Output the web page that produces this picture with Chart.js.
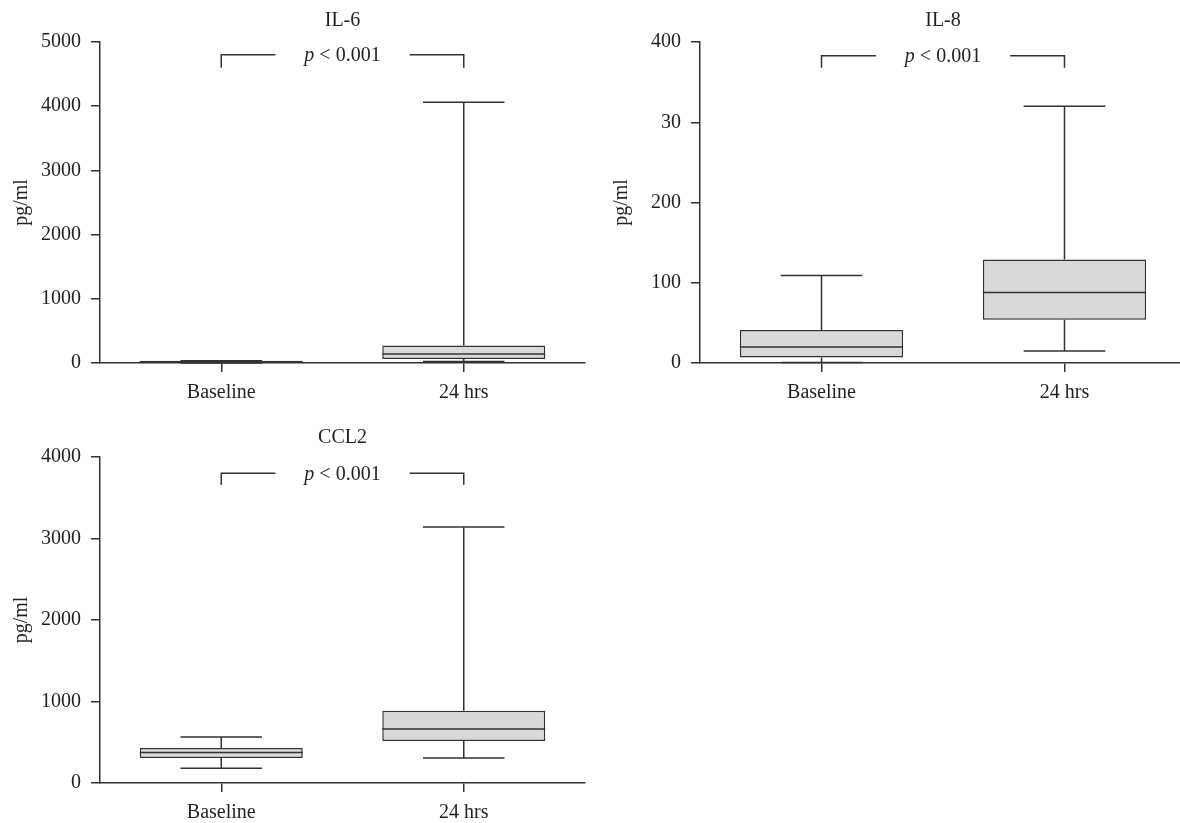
<!DOCTYPE html>
<html>
<head>
<meta charset="utf-8">
<script src="https://cdn.jsdelivr.net/npm/chart.js@4/dist/chart.umd.min.js"></script>
<style>
  html, body { margin: 0; padding: 0; background: #fff; overflow: hidden; }
  body { width: 1180px; height: 823px; position: relative; }
  canvas { position: absolute; }
</style>
</head>
<body>
<canvas id="il6" width="600" height="410" style="left:0;top:0"></canvas>
<canvas id="il8" width="600" height="410" style="left:600px;top:0"></canvas>
<canvas id="ccl2" width="600" height="408" style="left:0;top:415px"></canvas>
<script>
// --- data ---
const categories = ['Baseline', '24 hrs'];

const il6Min = [0, 25];
const il6Q1 = [0, 62];
const il6Median = [15, 140];
const il6Q3 = [35, 274];
const il6Max = [35, 4060];
const il6Ticks = ['0', '1000', '2000', '3000', '4000', '5000'];
const il6Bracket = [4800, 4600];

const il8Min = [0.5, 15];
const il8Q1 = [7, 54];
const il8Median = [20, 88];
const il8Q3 = [41, 129];
const il8Max = [109, 320];
const il8Ticks = ['0', '100', '200', '30', '400']; // "30" is how the axis is printed
const il8Bracket = [383, 368];

const ccl2Min = [181, 307];
const ccl2Q1 = [307, 516];
const ccl2Median = [374, 664];
const ccl2Q3 = [430, 885];
const ccl2Max = [565, 3140];
const ccl2Ticks = ['0', '1000', '2000', '3000', '4000'];
const ccl2Bracket = [3800, 3660];

const pText = ' < 0.001';

// --- styles ---
const FONT = '"Liberation Serif", "Times New Roman", serif';
const INK = '#231f20';
const LINE = '#333333';
const FILL = '#d9d9d9';

function makeBoxChart(id, title, mins, q1s, meds, q3s, maxs, ticks, yMax, yStep, bracket, layoutCfg) {
    // whiskers, caps and median drawn from the bar elements + y scale
    const whiskers = {
        id: 'whiskers_' + id,
        afterDatasetsDraw(chart) {
            const ctx = chart.ctx;
            const y = chart.scales.y;
            const meta = chart.getDatasetMeta(0);
            ctx.save();
            ctx.strokeStyle = LINE;
            ctx.lineWidth = 1.5;
            meta.data.forEach((bar, i) => {
                const x = bar.x;
                const w = bar.width;
                const yMin = y.getPixelForValue(mins[i]);
                const yQ1 = y.getPixelForValue(q1s[i]);
                const yMed = y.getPixelForValue(meds[i]);
                const yQ3 = y.getPixelForValue(q3s[i]);
                const yMx = y.getPixelForValue(maxs[i]);
                ctx.beginPath();
                // upper whisker + cap
                ctx.moveTo(x, yQ3); ctx.lineTo(x, yMx);
                ctx.moveTo(x - w / 4, yMx); ctx.lineTo(x + w / 4, yMx);
                // lower whisker + cap
                ctx.moveTo(x, yQ1); ctx.lineTo(x, yMin);
                ctx.moveTo(x - w / 4, yMin); ctx.lineTo(x + w / 4, yMin);
                // median
                ctx.moveTo(x - w / 2, yMed); ctx.lineTo(x + w / 2, yMed);
                ctx.stroke();
            });
            ctx.restore();
        }
    };

    // significance bracket with "p < 0.001"
    const sig = {
        id: 'sig_' + id,
        afterDraw(chart) {
            const ctx = chart.ctx;
            const xs = chart.scales.x;
            const y = chart.scales.y;
            const x0 = xs.getPixelForValue(0);
            const x1 = xs.getPixelForValue(1);
            const yTop = y.getPixelForValue(bracket[0]);
            const yDrop = y.getPixelForValue(bracket[1]);
            const mid = (x0 + x1) / 2;
            ctx.save();
            ctx.font = 'italic 20px ' + FONT;
            const wp = ctx.measureText('p').width;
            ctx.font = '20px ' + FONT;
            const wr = ctx.measureText(pText).width;
            const tw = wp + wr;
            const gap = 29;
            ctx.strokeStyle = LINE;
            ctx.lineWidth = 1.5;
            ctx.beginPath();
            ctx.moveTo(x0, yDrop); ctx.lineTo(x0, yTop); ctx.lineTo(mid - tw / 2 - gap, yTop);
            ctx.moveTo(mid + tw / 2 + gap, yTop); ctx.lineTo(x1, yTop); ctx.lineTo(x1, yDrop);
            ctx.stroke();
            ctx.fillStyle = INK;
            ctx.textBaseline = 'middle';
            ctx.textAlign = 'left';
            ctx.font = 'italic 20px ' + FONT;
            ctx.fillText('p', mid - tw / 2, yTop + 1);
            ctx.font = '20px ' + FONT;
            ctx.fillText(pText, mid - tw / 2 + wp, yTop + 1);
            ctx.restore();
        }
    };

    return new Chart(document.getElementById(id), {
        type: 'bar',
        data: {
            labels: categories,
            datasets: [{
                data: q1s.map((q, i) => [q, q3s[i]]),
                backgroundColor: FILL,
                borderColor: LINE,
                borderWidth: 1.5,
                borderSkipped: false,
                barPercentage: 0.672,
                categoryPercentage: 1
            }]
        },
        options: {
            responsive: false,
            animation: false,
            layout: { padding: { top: 0, left: 0, right: layoutCfg.right, bottom: 0 } },
            plugins: {
                legend: { display: false },
                tooltip: { enabled: false },
                title: {
                    display: true,
                    text: title,
                    fullSize: false,
                    color: INK,
                    font: { family: FONT, size: 20, weight: 'normal', lineHeight: 1.2 },
                    padding: { top: layoutCfg.titleTop, bottom: layoutCfg.titleBottom }
                }
            },
            scales: {
                x: {
                    offset: true,
                    grid: { display: true, offset: false, drawOnChartArea: false, drawTicks: true, tickLength: 9, color: LINE, lineWidth: 1.5 },
                    border: { display: true, color: LINE, width: 1.5 },
                    ticks: { color: INK, font: { family: FONT, size: 20 }, padding: 9, maxRotation: 0 },
                    afterFit: (s) => { s.height = layoutCfg.xHeight; }
                },
                y: {
                    min: 0,
                    max: yMax,
                    grid: { display: true, drawOnChartArea: false, drawTicks: true, tickLength: 9, color: LINE, lineWidth: 1.5 },
                    border: { display: true, color: LINE, width: 1.5 },
                    ticks: {
                        stepSize: yStep,
                        color: INK,
                        font: { family: FONT, size: 20 },
                        padding: 10,
                        callback: (v, i) => ticks[i]
                    },
                    title: {
                        display: true,
                        text: 'pg/ml',
                        color: INK,
                        font: { family: FONT, size: 20 },
                        padding: { top: 10, bottom: 0 }
                    },
                    afterFit: (s) => { s.width = 100; }
                }
            }
        },
        plugins: [whiskers, sig]
    });
}

makeBoxChart('il6', 'IL-6', il6Min, il6Q1, il6Median, il6Q3, il6Max, il6Ticks, 5000, 1000, il6Bracket,
    { right: 15, titleTop: 9, titleBottom: 9, xHeight: 47 });
makeBoxChart('il8', 'IL-8', il8Min, il8Q1, il8Median, il8Q3, il8Max, il8Ticks, 400, 100, il8Bracket,
    { right: 14, titleTop: 9, titleBottom: 9, xHeight: 47 });
makeBoxChart('ccl2', 'CCL2', ccl2Min, ccl2Q1, ccl2Median, ccl2Q3, ccl2Max, ccl2Ticks, 4000, 1000, ccl2Bracket,
    { right: 15, titleTop: 11, titleBottom: 7, xHeight: 40 });
</script>
</body>
</html>
